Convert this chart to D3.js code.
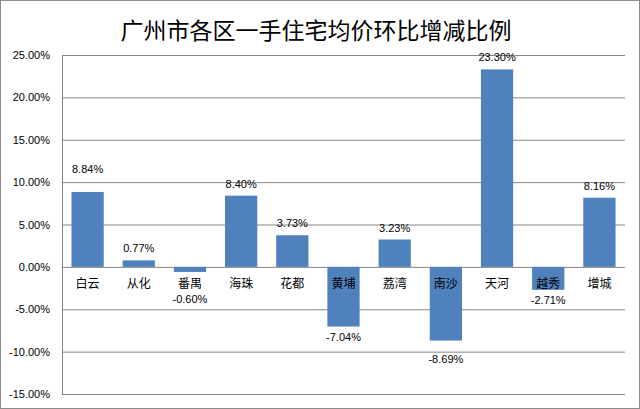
<!DOCTYPE html>
<html><head><meta charset="utf-8">
<script src="https://cdn.jsdelivr.net/npm/d3@7"></script>
<style>body{margin:0;background:#fff}svg{display:block}</style>
</head><body>
<svg id="c" width="640" height="409"></svg>
<script>
const title = "广州市各区一手住宅均价环比增减比例";
const categories = ["白云","从化","番禺","海珠","花都","黄埔","荔湾","南沙","天河","越秀","增城"];
const values = [8.84, 0.77, -0.60, 8.40, 3.73, -7.04, 3.23, -8.69, 23.30, -2.71, 8.16];
const yTicks = [25, 20, 15, 10, 5, 0, -5, -10, -15];

const W = 640, H = 409;
const m = {left: 62, right: 15, top: 55, bottom: 15};
const labelNudge = {"白云": 11, "南沙": 8}; // manual label nudges seen in the reference (away from bar)
const fmt = d => d3.format(".2f")(d).replace("\u2212", "-") + "%";

const svg = d3.select("#c");
svg.append("rect").attr("x",0.5).attr("y",0.5).attr("width",W-1).attr("height",H-1)
  .attr("fill","#fff").attr("stroke","#8c8c8c");

const x = d3.scaleBand().domain(categories).range([m.left, W - m.right]).paddingInner(0.37).paddingOuter(0.185);
const y = d3.scaleLinear().domain([-15, 25]).range([H - m.bottom, m.top]);

svg.append("text").attr("x", 316).attr("y", 39).attr("text-anchor","middle")
  .attr("font-family","'Noto Sans CJK SC'").attr("font-size",23).attr("fill","#000").text(title);

// grid
const yAxis = d3.axisLeft(y).tickValues(yTicks).tickSize(-(W - m.right - m.left)).tickFormat(fmt);
const g = svg.append("g").attr("transform",`translate(${m.left},0)`).call(yAxis);
g.select(".domain").attr("stroke","#868686");
g.selectAll(".tick line").attr("stroke","#868686");
g.selectAll(".tick text").attr("x",-12).attr("font-family","'Liberation Sans', Arial, sans-serif").attr("font-size",11).attr("fill","#000");

// bars
svg.append("g").selectAll("rect").data(values).join("rect")
  .attr("x",(d,i)=>x(categories[i])).attr("width",x.bandwidth())
  .attr("y",d=>y(Math.max(0,d))).attr("height",d=>Math.abs(y(d)-y(0)))
  .attr("fill","#4F81BD");

// category labels
svg.append("g").selectAll("text").data(categories).join("text")
  .attr("x",d=>x(d)+x.bandwidth()/2).attr("y",y(0)+21).attr("text-anchor","middle")
  .attr("font-family","'Noto Sans CJK SC'").attr("font-size",12).attr("fill","#000").text(d=>d);

// value labels
svg.append("g").selectAll("text").data(values).join("text")
  .attr("x",(d,i)=>x(categories[i])+x.bandwidth()/2)
  .attr("y",(d,i)=> {
    const n = labelNudge[categories[i]] || 0;
    return d>=0 ? y(d)-8-n : Math.max(y(d)+14+n, y(0)+36);
  })
  .attr("text-anchor","middle")
  .attr("font-family","'Liberation Sans', Arial, sans-serif").attr("font-size",11).attr("fill","#000")
  .text(fmt);
</script>
</body></html>
